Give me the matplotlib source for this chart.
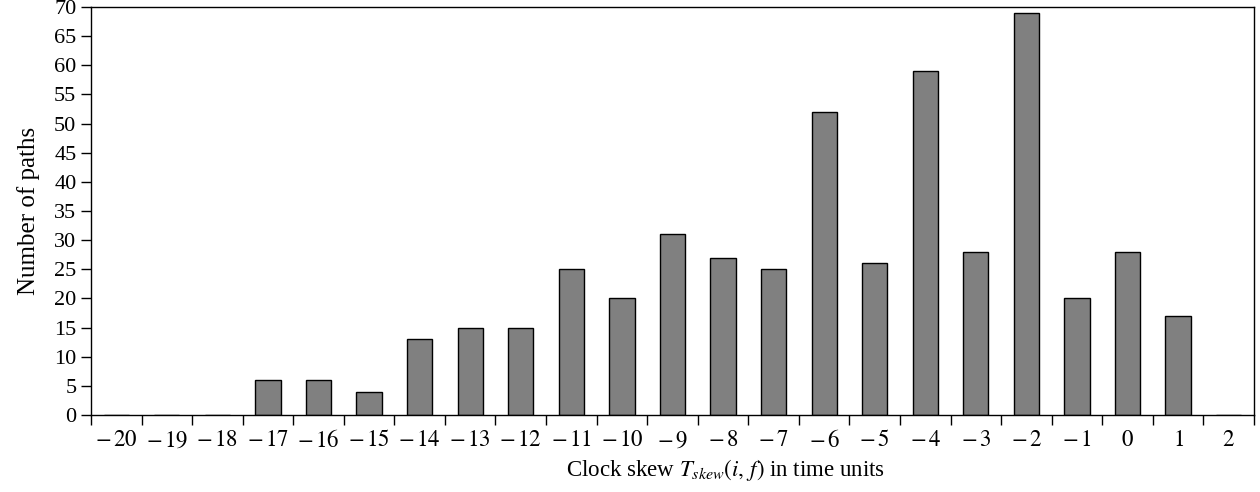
import matplotlib.pyplot as plt
import numpy as np

plt.rcParams['font.family'] = ['Liberation Serif', 'DejaVu Serif']
plt.rcParams['mathtext.fontset'] = 'stix'

skew = list(range(-20, 3))
paths = [0, 0, 0, 6, 6, 4, 13, 15, 15, 25, 20, 31, 27, 25, 52, 26, 59, 28, 69, 20, 28, 17, 0]
tick_labels = [(r"$-\,%d$" % -s) if s < 0 else r"$%d$" % s for s in skew]

fig = plt.figure(figsize=(12.6, 4.92), dpi=100)
ax = fig.add_axes([0.0722, 0.1565, 0.9230, 0.8293])

x = np.arange(len(skew))
ax.bar(x, paths, width=0.5, color='#808080', edgecolor='black', linewidth=1.0)

ax.set_xlim(-0.5, len(skew) - 0.5)
ax.set_ylim(0, 70)
ax.set_yticks(range(0, 71, 5))

ax.set_xticks(x)
ax.set_xticklabels(tick_labels)
ax.set_xticks(np.arange(-0.5, len(skew) - 0.4, 1.0), minor=True)
ax.tick_params(axis='x', which='major', length=0, pad=11, labelsize=16.5)
ax.tick_params(axis='x', which='minor', length=7.5, width=1.0, direction='out')
ax.tick_params(axis='y', length=7.5, width=1.0, labelsize=16, pad=3)

for sp in ax.spines.values():
    sp.set_linewidth(1.0)

ax.set_ylabel("Number of paths", fontsize=18, labelpad=10)
ax.set_xlabel(r"Clock skew $T_{skew}(i,\, f)$ in time units", fontsize=16.5)
ax.xaxis.set_label_coords(0.546, -0.102)

fig.savefig("out.png", dpi=100)
